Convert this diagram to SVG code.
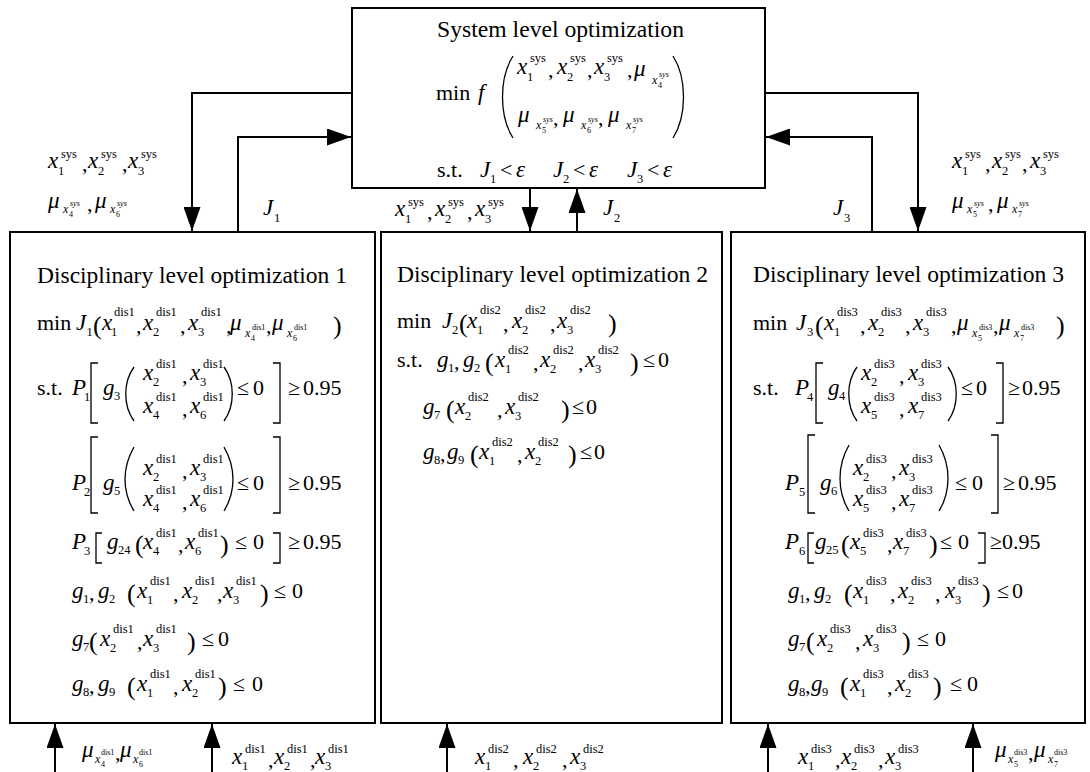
<svg xmlns="http://www.w3.org/2000/svg" width="1090" height="772" viewBox="0 0 1090 772">
<defs>
<style>
.box{fill:#fff;stroke:#000;stroke-width:2}
.ln{fill:none;stroke:#000;stroke-width:2}
.dl{fill:none;stroke:#000;stroke-width:1.3}
text{font-family:"Liberation Serif","Times New Roman",serif;font-size:22px;fill:#000}
.ti{font-size:23px}
.i{font-style:italic;font-size:23px}
.s{font-size:12.5px}
.tx{font-size:12px;font-style:italic}
.tt{font-size:8px}
.p{font-size:26px}
</style>
<marker id="ah" viewBox="0 0 24 17" refX="24" refY="8.5" markerWidth="24" markerHeight="17" markerUnits="userSpaceOnUse" orient="auto"><path d="M0,0 L24,8.5 L0,17 Z" fill="#000"/></marker>
</defs>
<rect width="1090" height="772" fill="#fff"/>

<g id="system">
<rect class="box" x="352" y="8" width="413" height="180"/>
<text class="ti" x="437" y="37" textLength="247" lengthAdjust="spacingAndGlyphs">System level optimization</text>
<text x="436" y="100">min</text>
<text class="i" x="478" y="100">f</text>
<path class="dl" d="M513,56 C499,78 499,116 513,138 M673,56 C687,78 687,116 673,138"/>
<text><tspan class="i" x="517" y="74">x</tspan><tspan class="s" x="530" y="62">sys</tspan><tspan class="s" x="527" y="81">1</tspan><tspan x="548" y="77">,</tspan><tspan class="i" x="557" y="74">x</tspan><tspan class="s" x="570" y="62">sys</tspan><tspan class="s" x="567" y="81">2</tspan><tspan x="587" y="77">,</tspan><tspan class="i" x="594" y="74">x</tspan><tspan class="s" x="607" y="62">sys</tspan><tspan class="s" x="604" y="81">3</tspan><tspan x="627" y="77">,</tspan><tspan class="i" x="634" y="76">μ</tspan><tspan class="tx" x="652" y="84">x</tspan><tspan class="tt i" x="659" y="77">sys</tspan><tspan class="tt" x="658" y="88">4</tspan></text>
<text><tspan class="i" x="518" y="122">μ</tspan><tspan class="tx" x="536" y="129">x</tspan><tspan class="tt i" x="543" y="122">sys</tspan><tspan class="tt" x="542" y="133">5</tspan><tspan x="553" y="125">,</tspan><tspan class="i" x="563" y="122">μ</tspan><tspan class="tx" x="581" y="129">x</tspan><tspan class="tt i" x="588" y="122">sys</tspan><tspan class="tt" x="587" y="133">6</tspan><tspan x="598" y="125">,</tspan><tspan class="i" x="608" y="122">μ</tspan><tspan class="tx" x="626" y="129">x</tspan><tspan class="tt i" x="633" y="122">sys</tspan><tspan class="tt" x="632" y="133">7</tspan></text>
<text><tspan x="437" y="177">s.t.</tspan><tspan class="i" x="480" y="177">J</tspan><tspan class="s" x="490" y="183">1</tspan><tspan x="500" y="177">&lt;</tspan><tspan class="i" x="516" y="177">ε</tspan><tspan class="i" x="553" y="177">J</tspan><tspan class="s" x="563" y="183">2</tspan><tspan x="573" y="177">&lt;</tspan><tspan class="i" x="589" y="177">ε</tspan><tspan class="i" x="627" y="177">J</tspan><tspan class="s" x="637" y="183">3</tspan><tspan x="647" y="177">&lt;</tspan><tspan class="i" x="663" y="177">ε</tspan></text>
</g>

<g id="dis1">
<rect class="box" x="10" y="232" width="365" height="491"/>
<text class="ti" x="37" y="283" textLength="310" lengthAdjust="spacingAndGlyphs">Disciplinary level optimization 1</text>
<text><tspan x="37" y="330">min</tspan><tspan class="i" x="76" y="330">J</tspan><tspan class="s" x="86.5" y="336">1</tspan><tspan class="p" x="93" y="334">(</tspan><tspan class="i" x="102" y="330">x</tspan><tspan class="s" x="114" y="316">dis1</tspan><tspan class="s" x="111" y="336">1</tspan><tspan x="136" y="333">,</tspan><tspan class="i" x="143" y="330">x</tspan><tspan class="s" x="156" y="316">dis1</tspan><tspan class="s" x="153" y="336">2</tspan><tspan x="180" y="333">,</tspan><tspan class="i" x="188" y="330">x</tspan><tspan class="s" x="201" y="316">dis1</tspan><tspan class="s" x="198" y="336">3</tspan><tspan x="226" y="333">,</tspan><tspan class="i" x="230" y="330">μ</tspan><tspan class="tx" x="245" y="337">x</tspan><tspan class="tt" x="252" y="330">dis1</tspan><tspan class="tt" x="251" y="341">4</tspan><tspan x="266" y="333">,</tspan><tspan class="i" x="272" y="330">μ</tspan><tspan class="tx" x="287" y="337">x</tspan><tspan class="tt" x="294" y="330">dis1</tspan><tspan class="tt" x="293" y="341">6</tspan><tspan class="p" x="333" y="334">)</tspan></text>
<text><tspan x="37" y="395">s.t.</tspan><tspan class="i" x="72" y="395">P</tspan><tspan class="s" x="84" y="401">1</tspan><tspan class="i" x="103" y="395">g</tspan><tspan class="s" x="114" y="400">3</tspan><tspan class="i" x="143" y="380">x</tspan><tspan class="s" x="156" y="368">dis1</tspan><tspan class="s" x="153" y="386">2</tspan><tspan x="182" y="383">,</tspan><tspan class="i" x="190" y="380">x</tspan><tspan class="s" x="203" y="368">dis1</tspan><tspan class="s" x="200" y="386">3</tspan><tspan class="i" x="143" y="413">x</tspan><tspan class="s" x="156" y="401">dis1</tspan><tspan class="s" x="153" y="419">4</tspan><tspan x="182" y="416">,</tspan><tspan class="i" x="190" y="413">x</tspan><tspan class="s" x="203" y="401">dis1</tspan><tspan class="s" x="200" y="419">6</tspan><tspan x="237" y="395">≤</tspan><tspan x="253" y="395">0</tspan><tspan x="288" y="395">≥</tspan><tspan x="303" y="395">0.95</tspan></text>
<path class="dl" d="M98,363 H91 V423 H98 M134,367 C123,382 123,406 134,421 M224,367 C235,382 235,406 224,421 M273,363 H280 V423 H273"/>
<text><tspan class="i" x="72" y="490">P</tspan><tspan class="s" x="84" y="496">2</tspan><tspan class="i" x="103" y="490">g</tspan><tspan class="s" x="114" y="495">5</tspan><tspan class="i" x="143" y="475">x</tspan><tspan class="s" x="156" y="463">dis1</tspan><tspan class="s" x="153" y="481">2</tspan><tspan x="182" y="478">,</tspan><tspan class="i" x="190" y="475">x</tspan><tspan class="s" x="203" y="463">dis1</tspan><tspan class="s" x="200" y="481">3</tspan><tspan class="i" x="143" y="506">x</tspan><tspan class="s" x="156" y="494">dis1</tspan><tspan class="s" x="153" y="512">4</tspan><tspan x="182" y="509">,</tspan><tspan class="i" x="190" y="506">x</tspan><tspan class="s" x="203" y="494">dis1</tspan><tspan class="s" x="200" y="512">6</tspan><tspan x="237" y="490">≤</tspan><tspan x="253" y="490">0</tspan><tspan x="288" y="490">≥</tspan><tspan x="303" y="490">0.95</tspan></text>
<path class="dl" d="M98,437 H91 V513 H98 M134,447 C122,468 122,491 134,511 M224,447 C236,468 236,491 224,511 M273,437 H280 V513 H273"/>
<text><tspan class="i" x="72" y="549">P</tspan><tspan class="s" x="84" y="555">3</tspan><tspan class="i" x="107" y="549">g</tspan><tspan class="s" x="118" y="554">24</tspan><tspan class="p" x="135" y="553">(</tspan><tspan class="i" x="143" y="549">x</tspan><tspan class="s" x="156" y="537">dis1</tspan><tspan class="s" x="153" y="555">4</tspan><tspan x="178" y="552">,</tspan><tspan class="i" x="185" y="549">x</tspan><tspan class="s" x="198" y="537">dis1</tspan><tspan class="s" x="195" y="555">6</tspan><tspan class="p" x="220" y="553">)</tspan><tspan x="235" y="549">≤</tspan><tspan x="253" y="549">0</tspan><tspan x="288" y="549">≥</tspan><tspan x="303" y="549">0.95</tspan></text>
<path class="dl" d="M102,533 H96 V563 H102 M273,533 H280 V563 H273"/>
<text><tspan class="i" x="72" y="598">g</tspan><tspan class="s" x="83" y="603">1</tspan><tspan x="89" y="600">,</tspan><tspan class="i" x="98" y="598">g</tspan><tspan class="s" x="109" y="603">2</tspan><tspan class="p" x="127" y="602">(</tspan><tspan class="i" x="137" y="598">x</tspan><tspan class="s" x="150" y="585">dis1</tspan><tspan class="s" x="147" y="604">1</tspan><tspan x="173" y="601">,</tspan><tspan class="i" x="182" y="598">x</tspan><tspan class="s" x="195" y="585">dis1</tspan><tspan class="s" x="192" y="604">2</tspan><tspan x="217" y="601">,</tspan><tspan class="i" x="223" y="598">x</tspan><tspan class="s" x="236" y="585">dis1</tspan><tspan class="s" x="233" y="604">3</tspan><tspan class="p" x="260" y="602">)</tspan><tspan x="274" y="598">≤</tspan><tspan x="292" y="598">0</tspan></text>
<text><tspan class="i" x="72" y="646">g</tspan><tspan class="s" x="83" y="651">7</tspan><tspan class="p" x="89" y="650">(</tspan><tspan class="i" x="100" y="646">x</tspan><tspan class="s" x="113" y="633">dis1</tspan><tspan class="s" x="110" y="652">2</tspan><tspan x="137" y="649">,</tspan><tspan class="i" x="143" y="646">x</tspan><tspan class="s" x="156" y="633">dis1</tspan><tspan class="s" x="153" y="652">3</tspan><tspan class="p" x="187" y="650">)</tspan><tspan x="202" y="646">≤</tspan><tspan x="218" y="646">0</tspan></text>
<text><tspan class="i" x="72" y="691">g</tspan><tspan class="s" x="83" y="696">8</tspan><tspan x="89" y="693">,</tspan><tspan class="i" x="98" y="691">g</tspan><tspan class="s" x="109" y="696">9</tspan><tspan class="p" x="127" y="695">(</tspan><tspan class="i" x="137" y="691">x</tspan><tspan class="s" x="150" y="678">dis1</tspan><tspan class="s" x="147" y="697">1</tspan><tspan x="173" y="694">,</tspan><tspan class="i" x="182" y="691">x</tspan><tspan class="s" x="195" y="678">dis1</tspan><tspan class="s" x="192" y="697">2</tspan><tspan class="p" x="218" y="695">)</tspan><tspan x="233" y="691">≤</tspan><tspan x="252" y="691">0</tspan></text>
</g>

<g id="dis2">
<rect class="box" x="381" y="232" width="341" height="491"/>
<text class="ti" x="397" y="282" textLength="311" lengthAdjust="spacingAndGlyphs">Disciplinary level optimization 2</text>
<text><tspan x="397" y="328">min</tspan><tspan class="i" x="442" y="328">J</tspan><tspan class="s" x="452" y="334">2</tspan><tspan class="p" x="459" y="332">(</tspan><tspan class="i" x="467" y="328">x</tspan><tspan class="s" x="480" y="314">dis2</tspan><tspan class="s" x="477" y="334">1</tspan><tspan x="503" y="331">,</tspan><tspan class="i" x="512" y="328">x</tspan><tspan class="s" x="525" y="314">dis2</tspan><tspan class="s" x="522" y="334">2</tspan><tspan x="550" y="331">,</tspan><tspan class="i" x="557" y="328">x</tspan><tspan class="s" x="570" y="314">dis2</tspan><tspan class="s" x="567" y="334">3</tspan><tspan class="p" x="608" y="332">)</tspan></text>
<text><tspan x="397" y="367">s.t.</tspan><tspan class="i" x="437" y="367">g</tspan><tspan class="s" x="448" y="372">1</tspan><tspan x="454" y="369">,</tspan><tspan class="i" x="463" y="367">g</tspan><tspan class="s" x="474" y="372">2</tspan><tspan class="p" x="485" y="371">(</tspan><tspan class="i" x="495" y="367">x</tspan><tspan class="s" x="508" y="354">dis2</tspan><tspan class="s" x="505" y="373">1</tspan><tspan x="533" y="370">,</tspan><tspan class="i" x="540" y="367">x</tspan><tspan class="s" x="553" y="354">dis2</tspan><tspan class="s" x="550" y="373">2</tspan><tspan x="578" y="370">,</tspan><tspan class="i" x="585" y="367">x</tspan><tspan class="s" x="598" y="354">dis2</tspan><tspan class="s" x="595" y="373">3</tspan><tspan class="p" x="630" y="371">)</tspan><tspan x="643" y="367">≤</tspan><tspan x="658" y="367">0</tspan></text>
<text><tspan class="i" x="423" y="414">g</tspan><tspan class="s" x="434" y="419">7</tspan><tspan class="p" x="446" y="418">(</tspan><tspan class="i" x="455" y="414">x</tspan><tspan class="s" x="468" y="401">dis2</tspan><tspan class="s" x="465" y="420">2</tspan><tspan x="497" y="417">,</tspan><tspan class="i" x="505" y="414">x</tspan><tspan class="s" x="518" y="401">dis2</tspan><tspan class="s" x="515" y="420">3</tspan><tspan class="p" x="561" y="418">)</tspan><tspan x="572" y="414">≤</tspan><tspan x="586" y="414">0</tspan></text>
<text><tspan class="i" x="423" y="459">g</tspan><tspan class="s" x="434" y="464">8</tspan><tspan x="440" y="461">,</tspan><tspan class="i" x="447" y="459">g</tspan><tspan class="s" x="458" y="464">9</tspan><tspan class="p" x="470" y="463">(</tspan><tspan class="i" x="479" y="459">x</tspan><tspan class="s" x="492" y="446">dis2</tspan><tspan class="s" x="489" y="465">1</tspan><tspan x="517" y="462">,</tspan><tspan class="i" x="525" y="459">x</tspan><tspan class="s" x="538" y="446">dis2</tspan><tspan class="s" x="535" y="465">2</tspan><tspan class="p" x="568" y="463">)</tspan><tspan x="580" y="459">≤</tspan><tspan x="594" y="459">0</tspan></text>
</g>

<g id="dis3">
<rect class="box" x="731" y="232" width="354" height="491"/>
<text class="ti" x="753" y="282" textLength="311" lengthAdjust="spacingAndGlyphs">Disciplinary level optimization 3</text>
<text><tspan x="753" y="330">min</tspan><tspan class="i" x="796" y="330">J</tspan><tspan class="s" x="807" y="336">3</tspan><tspan class="p" x="815" y="334">(</tspan><tspan class="i" x="824" y="330">x</tspan><tspan class="s" x="837" y="316">dis3</tspan><tspan class="s" x="834" y="336">1</tspan><tspan x="860" y="333">,</tspan><tspan class="i" x="868" y="330">x</tspan><tspan class="s" x="881" y="316">dis3</tspan><tspan class="s" x="878" y="336">2</tspan><tspan x="905" y="333">,</tspan><tspan class="i" x="913" y="330">x</tspan><tspan class="s" x="926" y="316">dis3</tspan><tspan class="s" x="923" y="336">3</tspan><tspan x="951" y="333">,</tspan><tspan class="i" x="957" y="330">μ</tspan><tspan class="tx" x="972" y="337">x</tspan><tspan class="tt" x="979" y="330">dis3</tspan><tspan class="tt" x="978" y="341">5</tspan><tspan x="993" y="333">,</tspan><tspan class="i" x="999" y="330">μ</tspan><tspan class="tx" x="1014" y="337">x</tspan><tspan class="tt" x="1021" y="330">dis3</tspan><tspan class="tt" x="1020" y="341">7</tspan><tspan class="p" x="1056" y="334">)</tspan></text>
<text><tspan x="753" y="395">s.t.</tspan><tspan class="i" x="795" y="395">P</tspan><tspan class="s" x="807" y="401">4</tspan><tspan class="i" x="828" y="395">g</tspan><tspan class="s" x="839" y="400">4</tspan><tspan class="i" x="861" y="380">x</tspan><tspan class="s" x="874" y="368">dis3</tspan><tspan class="s" x="871" y="386">2</tspan><tspan x="899" y="383">,</tspan><tspan class="i" x="908" y="380">x</tspan><tspan class="s" x="921" y="368">dis3</tspan><tspan class="s" x="918" y="386">3</tspan><tspan class="i" x="861" y="413">x</tspan><tspan class="s" x="874" y="401">dis3</tspan><tspan class="s" x="871" y="419">5</tspan><tspan x="899" y="416">,</tspan><tspan class="i" x="908" y="413">x</tspan><tspan class="s" x="921" y="401">dis3</tspan><tspan class="s" x="918" y="419">7</tspan><tspan x="961" y="395">≤</tspan><tspan x="976" y="395">0</tspan><tspan x="1008" y="395">≥</tspan><tspan x="1022" y="395">0.95</tspan></text>
<path class="dl" d="M823,363 H816 V423 H823 M857,367 C846,382 846,406 857,421 M948,367 C959,382 959,406 948,421 M996,363 H1003 V423 H996"/>
<text><tspan class="i" x="785" y="490">P</tspan><tspan class="s" x="799" y="496">5</tspan><tspan class="i" x="820" y="490">g</tspan><tspan class="s" x="831" y="495">6</tspan><tspan class="i" x="853" y="475">x</tspan><tspan class="s" x="866" y="463">dis3</tspan><tspan class="s" x="863" y="481">2</tspan><tspan x="891" y="478">,</tspan><tspan class="i" x="899" y="475">x</tspan><tspan class="s" x="912" y="463">dis3</tspan><tspan class="s" x="909" y="481">3</tspan><tspan class="i" x="853" y="506">x</tspan><tspan class="s" x="866" y="494">dis3</tspan><tspan class="s" x="863" y="512">5</tspan><tspan x="891" y="509">,</tspan><tspan class="i" x="899" y="506">x</tspan><tspan class="s" x="912" y="494">dis3</tspan><tspan class="s" x="909" y="512">7</tspan><tspan x="955" y="490">≤</tspan><tspan x="972" y="490">0</tspan><tspan x="1003" y="490">≥</tspan><tspan x="1018" y="490">0.95</tspan></text>
<path class="dl" d="M815,435 H808 V513 H815 M849,445 C837,466 837,491 849,511 M939,445 C951,466 951,491 939,511 M991,435 H998 V513 H991"/>
<text><tspan class="i" x="785" y="549">P</tspan><tspan class="s" x="799" y="555">6</tspan><tspan class="i" x="815" y="549">g</tspan><tspan class="s" x="826" y="554">25</tspan><tspan class="p" x="841" y="553">(</tspan><tspan class="i" x="850" y="549">x</tspan><tspan class="s" x="863" y="537">dis3</tspan><tspan class="s" x="860" y="555">5</tspan><tspan x="887" y="552">,</tspan><tspan class="i" x="893" y="549">x</tspan><tspan class="s" x="906" y="537">dis3</tspan><tspan class="s" x="903" y="555">7</tspan><tspan class="p" x="929" y="553">)</tspan><tspan x="940" y="549">≤</tspan><tspan x="958" y="549">0</tspan><tspan x="990" y="549">≥</tspan><tspan x="1002" y="549">0.95</tspan></text>
<path class="dl" d="M814,533 H808 V563 H814 M978,533 H985 V563 H978"/>
<text><tspan class="i" x="788" y="598">g</tspan><tspan class="s" x="799" y="603">1</tspan><tspan x="805" y="600">,</tspan><tspan class="i" x="814" y="598">g</tspan><tspan class="s" x="825" y="603">2</tspan><tspan class="p" x="844" y="602">(</tspan><tspan class="i" x="853" y="598">x</tspan><tspan class="s" x="866" y="585">dis3</tspan><tspan class="s" x="863" y="604">1</tspan><tspan x="890" y="601">,</tspan><tspan class="i" x="898" y="598">x</tspan><tspan class="s" x="911" y="585">dis3</tspan><tspan class="s" x="908" y="604">2</tspan><tspan x="935" y="601">,</tspan><tspan class="i" x="945" y="598">x</tspan><tspan class="s" x="958" y="585">dis3</tspan><tspan class="s" x="955" y="604">3</tspan><tspan class="p" x="982" y="602">)</tspan><tspan x="997" y="598">≤</tspan><tspan x="1012" y="598">0</tspan></text>
<text><tspan class="i" x="788" y="646">g</tspan><tspan class="s" x="799" y="651">7</tspan><tspan class="p" x="806" y="650">(</tspan><tspan class="i" x="817" y="646">x</tspan><tspan class="s" x="830" y="633">dis3</tspan><tspan class="s" x="827" y="652">2</tspan><tspan x="855" y="649">,</tspan><tspan class="i" x="863" y="646">x</tspan><tspan class="s" x="876" y="633">dis3</tspan><tspan class="s" x="873" y="652">3</tspan><tspan class="p" x="902" y="650">)</tspan><tspan x="917" y="646">≤</tspan><tspan x="935" y="646">0</tspan></text>
<text><tspan class="i" x="788" y="691">g</tspan><tspan class="s" x="799" y="696">8</tspan><tspan x="805" y="693">,</tspan><tspan class="i" x="811" y="691">g</tspan><tspan class="s" x="822" y="696">9</tspan><tspan class="p" x="840" y="695">(</tspan><tspan class="i" x="850" y="691">x</tspan><tspan class="s" x="863" y="678">dis3</tspan><tspan class="s" x="860" y="697">1</tspan><tspan x="887" y="694">,</tspan><tspan class="i" x="895" y="691">x</tspan><tspan class="s" x="908" y="678">dis3</tspan><tspan class="s" x="905" y="697">2</tspan><tspan class="p" x="933" y="695">)</tspan><tspan x="950" y="691">≤</tspan><tspan x="967" y="691">0</tspan></text>
</g>

<g id="connectors">
<g class="ln">
<path d="M352,93 H192 V231" marker-end="url(#ah)"/>
<path d="M238,232 V137 H351" marker-end="url(#ah)"/>
<path d="M530,189 V231" marker-end="url(#ah)"/>
<path d="M577,232 V189" marker-end="url(#ah)"/>
<path d="M765,93 H918 V231" marker-end="url(#ah)"/>
<path d="M872,232 V137 H766" marker-end="url(#ah)"/>
<path d="M55,772 V724" marker-end="url(#ah)"/>
<path d="M212,772 V724" marker-end="url(#ah)"/>
<path d="M447,772 V724" marker-end="url(#ah)"/>
<path d="M768,772 V724" marker-end="url(#ah)"/>
<path d="M973,772 V724" marker-end="url(#ah)"/>
</g>
<g id="labels">
<text><tspan class="i" x="48" y="168">x</tspan><tspan class="s" x="61" y="158">sys</tspan><tspan class="s" x="58" y="175">1</tspan><tspan x="82" y="171">,</tspan><tspan class="i" x="88" y="168">x</tspan><tspan class="s" x="101" y="158">sys</tspan><tspan class="s" x="98" y="175">2</tspan><tspan x="122" y="171">,</tspan><tspan class="i" x="128" y="168">x</tspan><tspan class="s" x="141" y="158">sys</tspan><tspan class="s" x="138" y="175">3</tspan></text>
<text><tspan class="i" x="48" y="208">μ</tspan><tspan class="tx" x="63" y="213">x</tspan><tspan class="tt i" x="70" y="206">sys</tspan><tspan class="tt" x="69" y="217">4</tspan><tspan x="87" y="211">,</tspan><tspan class="i" x="95" y="208">μ</tspan><tspan class="tx" x="110" y="213">x</tspan><tspan class="tt i" x="117" y="206">sys</tspan><tspan class="tt" x="116" y="217">6</tspan></text>
<text><tspan class="i" x="263" y="215">J</tspan><tspan class="s" x="274" y="222">1</tspan></text>
<text><tspan class="i" x="395" y="216">x</tspan><tspan class="s" x="408" y="206">sys</tspan><tspan class="s" x="405" y="223">1</tspan><tspan x="427" y="219">,</tspan><tspan class="i" x="435" y="216">x</tspan><tspan class="s" x="448" y="206">sys</tspan><tspan class="s" x="445" y="223">2</tspan><tspan x="467" y="219">,</tspan><tspan class="i" x="475" y="216">x</tspan><tspan class="s" x="488" y="206">sys</tspan><tspan class="s" x="485" y="223">3</tspan></text>
<text><tspan class="i" x="603" y="215">J</tspan><tspan class="s" x="614" y="222">2</tspan></text>
<text><tspan class="i" x="833" y="215">J</tspan><tspan class="s" x="844" y="222">3</tspan></text>
<text><tspan class="i" x="952" y="168">x</tspan><tspan class="s" x="965" y="158">sys</tspan><tspan class="s" x="962" y="175">1</tspan><tspan x="985" y="171">,</tspan><tspan class="i" x="992" y="168">x</tspan><tspan class="s" x="1005" y="158">sys</tspan><tspan class="s" x="1002" y="175">2</tspan><tspan x="1022" y="171">,</tspan><tspan class="i" x="1030" y="168">x</tspan><tspan class="s" x="1043" y="158">sys</tspan><tspan class="s" x="1040" y="175">3</tspan></text>
<text><tspan class="i" x="952" y="208">μ</tspan><tspan class="tx" x="967" y="213">x</tspan><tspan class="tt i" x="974" y="206">sys</tspan><tspan class="tt" x="973" y="217">5</tspan><tspan x="988" y="211">,</tspan><tspan class="i" x="997" y="208">μ</tspan><tspan class="tx" x="1012" y="213">x</tspan><tspan class="tt i" x="1019" y="206">sys</tspan><tspan class="tt" x="1018" y="217">7</tspan></text>
<text><tspan class="i" x="82" y="757">μ</tspan><tspan class="tx" x="95" y="763">x</tspan><tspan class="tt" x="101" y="755">dis1</tspan><tspan class="tt" x="101" y="767">4</tspan><tspan x="115" y="760">,</tspan><tspan class="i" x="120" y="757">μ</tspan><tspan class="tx" x="133" y="763">x</tspan><tspan class="tt" x="139" y="755">dis1</tspan><tspan class="tt" x="139" y="767">6</tspan></text>
<text><tspan class="i" x="232" y="764">x</tspan><tspan class="s" x="245" y="753">dis1</tspan><tspan class="s" x="242" y="770">1</tspan><tspan x="268" y="767">,</tspan><tspan class="i" x="274" y="764">x</tspan><tspan class="s" x="287" y="753">dis1</tspan><tspan class="s" x="284" y="770">2</tspan><tspan x="310" y="767">,</tspan><tspan class="i" x="315" y="764">x</tspan><tspan class="s" x="328" y="753">dis1</tspan><tspan class="s" x="325" y="770">3</tspan></text>
<text><tspan class="i" x="475" y="764">x</tspan><tspan class="s" x="488" y="753">dis2</tspan><tspan class="s" x="485" y="770">1</tspan><tspan x="513" y="767">,</tspan><tspan class="i" x="523" y="764">x</tspan><tspan class="s" x="536" y="753">dis2</tspan><tspan class="s" x="533" y="770">2</tspan><tspan x="562" y="767">,</tspan><tspan class="i" x="570" y="764">x</tspan><tspan class="s" x="583" y="753">dis2</tspan><tspan class="s" x="580" y="770">3</tspan></text>
<text><tspan class="i" x="798" y="764">x</tspan><tspan class="s" x="811" y="753">dis3</tspan><tspan class="s" x="808" y="770">1</tspan><tspan x="835" y="767">,</tspan><tspan class="i" x="841" y="764">x</tspan><tspan class="s" x="854" y="753">dis3</tspan><tspan class="s" x="851" y="770">2</tspan><tspan x="878" y="767">,</tspan><tspan class="i" x="885" y="764">x</tspan><tspan class="s" x="898" y="753">dis3</tspan><tspan class="s" x="895" y="770">3</tspan></text>
<text><tspan class="i" x="995" y="757">μ</tspan><tspan class="tx" x="1008" y="763">x</tspan><tspan class="tt" x="1014" y="755">dis3</tspan><tspan class="tt" x="1014" y="767">5</tspan><tspan x="1028" y="760">,</tspan><tspan class="i" x="1034" y="757">μ</tspan><tspan class="tx" x="1048" y="763">x</tspan><tspan class="tt" x="1054" y="755">dis3</tspan><tspan class="tt" x="1054" y="767">7</tspan></text>
</g>
</g>
</svg>
